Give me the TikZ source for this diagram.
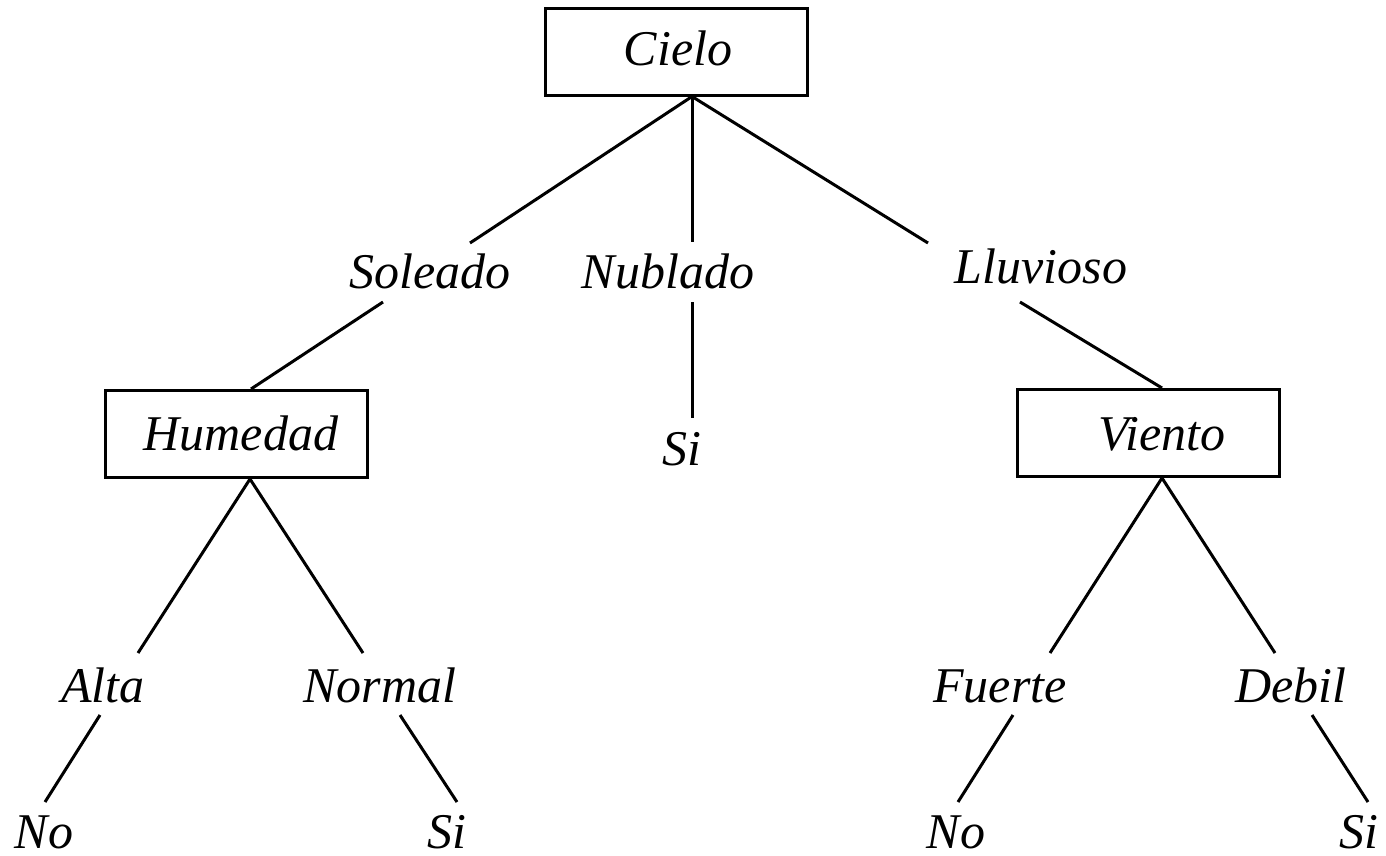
\documentclass[tikz,border=0pt]{standalone}
\usepackage{fontspec}
\setmainfont{Liberation Serif}
\usetikzlibrary{calc}
\begin{document}
\begin{tikzpicture}[x=1pt,y=-1pt,
  lbl/.style={anchor=base,inner sep=0pt,font=\fontsize{50}{60}\selectfont\itshape},
  box/.style={draw,line width=3pt,inner sep=0pt,minimum width=262pt,minimum height=87pt},
  edge/.style={line width=3pt}]
\useasboundingbox (0,0) rectangle (1386,855);
% boxes
\node[box] (cielo) at (676.5,51.5) {};
\node[box] (humedad) at (236,434) {};
\node[box] (viento) at (1148.5,433) {};
% texts
\node[lbl] (cielot) at (678,65) {Cielo};
\node[lbl] (humedadt) at (241,450) {Humedad};
\node[lbl] (vientot) at (1162,450) {Viento};
\node[lbl] (soleado) at (430,288) {Soleado};
\node[lbl] (nublado) at (668,288) {Nublado};
\node[lbl] (lluvioso) at (1041,283) {Lluvioso};
\node[lbl] (si1) at (682,465) {Si};
\node[lbl] (alta) at (103,702) {Alta};
\node[lbl] (normal) at (380,702) {Normal};
\node[lbl] (fuerte) at (1000,702) {Fuerte};
\node[lbl] (debil) at (1291,702) {Debil};
\node[lbl] (no1) at (44,848) {No};
\node[lbl] (si2) at (447,848) {Si};
\node[lbl] (no2) at (956,848) {No};
\node[lbl] (si3) at (1359,848) {Si};
% connector ends
\coordinate (soleT) at (470,243);
\coordinate (soleB) at (383,302);
\coordinate (nublT) at (692,242);
\coordinate (nublB) at (692,302);
\coordinate (si1T) at (692,418);
\coordinate (lluvT) at (928,243);
\coordinate (lluvB) at (1020,302);
\coordinate (altaT) at (138,653);
\coordinate (altaB) at (100,715);
\coordinate (no1T) at (45,802);
\coordinate (normT) at (363,653);
\coordinate (normB) at (400,715);
\coordinate (si2T) at (457,802);
\coordinate (fuerT) at (1050,653);
\coordinate (fuerB) at (1013,715);
\coordinate (no2T) at (958,802);
\coordinate (debT) at (1275,653);
\coordinate (debB) at (1312,715);
\coordinate (si3T) at (1368,802);
% connectors
\draw[edge] (soleT) -- ([xshift=15.5pt]cielo.south) -- (lluvT);
\draw[edge] ([xshift=15.5pt]cielo.south) -- (nublT);
\draw[edge] (soleB) -- ([xshift=15pt]humedad.north);
\draw[edge] (nublB) -- (si1T);
\draw[edge] (lluvB) -- ([xshift=13.5pt]viento.north);
\draw[edge] (altaT) -- ([xshift=14pt]humedad.south) -- (normT);
\draw[edge] (altaB) -- (no1T);
\draw[edge] (normB) -- (si2T);
\draw[edge] (fuerT) -- ([xshift=13.5pt]viento.south) -- (debT);
\draw[edge] (fuerB) -- (no2T);
\draw[edge] (debB) -- (si3T);
\end{tikzpicture}
\end{document}
